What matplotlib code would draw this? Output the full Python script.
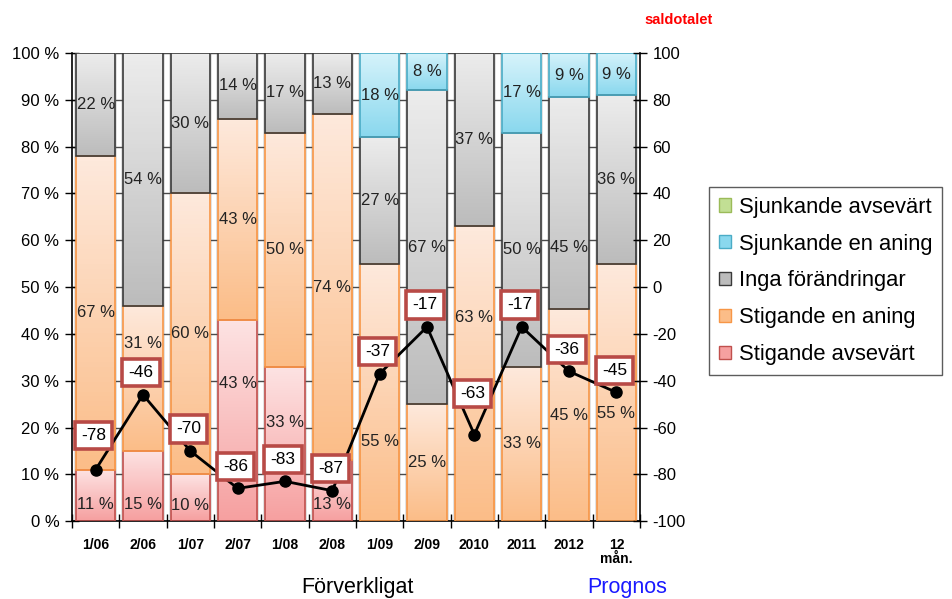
import numpy as np
import matplotlib
matplotlib.use("Agg")
import matplotlib.pyplot as plt
from matplotlib.colors import LinearSegmentedColormap
from matplotlib.patches import Patch

plt.rcParams["font.family"] = ["Liberation Sans", "DejaVu Sans"]

# periods on the x axis
periods = ["1/06", "2/06", "1/07", "2/07", "1/08", "2/08",
           "1/09", "2/09", "2010", "2011", "2012", "12\nmån."]

# shares in percent, bottom to top of each stacked bar
stig_avsevart = [11, 15, 10, 43, 33, 13, 0, 0, 0, 0, 0, 0]
stig_aning = [67, 31, 60, 43, 50, 74, 55, 25, 63, 33, 45.3, 55]
inga = [22, 54, 30, 14, 17, 13, 27, 67, 37, 50, 45.3, 36]
sjunk_aning = [0, 0, 0, 0, 0, 0, 18, 8, 0, 17, 9.4, 9]
sjunk_avsevart = [0, 0, 0, 0, 0, 0, 0, 0, 0, 0, 0, 0]

# saldotalet (right axis)
saldo = [-78, -46, -70, -86, -83, -87, -37, -17, -63, -17, -36, -45]

series = [
    # label, values, top colour, bottom colour, edge colour
    ("Stigande avsevärt", stig_avsevart, "#fde3e3", "#f6a0a0", "#c0504d"),
    ("Stigande en aning", stig_aning, "#fee9dc", "#fbbd88", "#f79646"),
    ("Inga förändringar", inga, "#ececec", "#bcbcbc", "#3a3a3a"),
    ("Sjunkande en aning", sjunk_aning, "#d6f3fb", "#8ad8ee", "#4bacc6"),
    ("Sjunkande avsevärt", sjunk_avsevart, "#e6f3d0", "#c2df94", "#9bbb59"),
]

# hand moved data labels (series index, bar index): shift in percent
label_nudge = {(0, 0): -2, (0, 1): -4, (0, 2): -1.6, (0, 5): -3,
               (1, 1): 7.5, (0, 3): 8, (0, 4): 4.5, (1, 6): -10.5,
               (1, 8): 12, (2, 10): -9.5, (1, 11): -4.5}

fig = plt.figure(figsize=(9.52, 5.99), dpi=100)
ax = fig.add_axes([0.0756, 0.130, 0.5967, 0.7815])

x = np.arange(len(periods))
width = 0.83

# soft shadow behind the bars and gridlines
ax.bar(x, [100] * len(x), width=width + 0.09, color="#e2e2e2", zorder=0.5, linewidth=0)
for yv in range(0, 101, 10):
    ax.axhline(yv, color="#4a4a4a", lw=1, zorder=1)

bottom = np.zeros(len(x))
for si, (name, vals, ctop, cbot, cedge) in enumerate(series):
    vals = np.array(vals, dtype=float)
    lws = [1.2 if v > 0 else 0 for v in vals]
    bars = ax.bar(x, vals, width=width, bottom=bottom, facecolor="none",
                  edgecolor=cedge, linewidth=lws, zorder=3)
    cmap = LinearSegmentedColormap.from_list(name, [cbot, ctop])
    for i, b in enumerate(bars):
        h = b.get_height()
        if h <= 0:
            continue
        x0, y0 = b.get_xy()
        im = ax.imshow(np.linspace(0, 1, 64).reshape(-1, 1), cmap=cmap,
                       extent=[x0, x0 + b.get_width(), y0, y0 + h],
                       origin="lower", aspect="auto", zorder=2.5)
        im.set_clip_path(b)
        ly = y0 + h / 2 + label_nudge.get((si, i), 0)
        ly = max(ly, 3.4)
        ax.text(x[i], ly, f"{round(vals[i])} %", ha="center", va="center",
                fontsize=12, color="#222222", zorder=4)
    bottom += vals

ax.set_xlim(-0.5, len(x) - 0.5)
ax.set_ylim(0, 100)
ax.set_yticks(range(0, 101, 10))
ax.set_yticklabels([f"{v} %" for v in range(0, 101, 10)], fontsize=12)
ax.set_xticks(np.arange(-0.5, len(x), 1))
ax.set_xticklabels([])
ax.set_xticks(x, minor=True)
ax.set_xticklabels(periods, minor=True, fontsize=10, fontweight="bold",
                   linespacing=1.0, va="top")
ax.tick_params(axis="x", which="major", direction="inout", length=10, width=1)
ax.tick_params(axis="x", which="minor", length=0, pad=12)
ax.tick_params(axis="y", direction="inout", length=10, width=1, pad=4)
ax.spines["top"].set_visible(False)
ax.spines["right"].set_visible(False)
for s in ("left", "bottom"):
    ax.spines[s].set_linewidth(1.2)

ax2 = ax.twinx()
ax2.set_ylim(-100, 100)
ax2.set_yticks(range(-100, 101, 20))
ax2.set_yticklabels([str(v) for v in range(-100, 101, 20)], fontsize=12)
ax2.tick_params(axis="y", direction="inout", length=10, width=1, pad=4)
ax2.spines["top"].set_visible(False)
ax2.spines["left"].set_visible(False)
ax2.spines["bottom"].set_visible(False)
ax2.spines["right"].set_linewidth(1.2)
ax2.plot(x, saldo, color="black", lw=2, marker="o", markersize=8, zorder=5)

lift = {0: 34, 8: 41}
for i, v in enumerate(saldo):
    ax2.annotate(str(v), (x[i], v), xytext=(-2, lift.get(i, 22)),
                 textcoords="offset pixels", ha="center", va="center",
                 fontsize=12.5, zorder=6,
                 bbox=dict(boxstyle="square,pad=0.36", fc="white",
                           ec="#b84a46", lw=2.6))

handles = [Patch(facecolor=s[3], edgecolor=s[4], label=s[0]) for s in reversed(series)]
fig.legend(handles=handles, loc="center", bbox_to_anchor=(0.736, 0.379, 0.262, 0.304),
           fontsize=15.8, frameon=True, fancybox=False, edgecolor="#333333",
           handlelength=0.55, handleheight=0.55, handletextpad=0.35,
           labelspacing=0.72, borderpad=0.45, borderaxespad=0)

fig.text(357 / 952, 1 - 588 / 599, "Förverkligat", ha="center", va="center", fontsize=15.5)
fig.text(627 / 952, 1 - 588 / 599, "Prognos", ha="center", va="center",
         fontsize=15.5, color="#1a1aff")
fig.text(679 / 952, 1 - 20 / 599, "saldotalet", ha="center", va="center",
         fontsize=10.5, fontweight="bold", color="#ff0000")

fig.savefig("out.png", dpi=100)
